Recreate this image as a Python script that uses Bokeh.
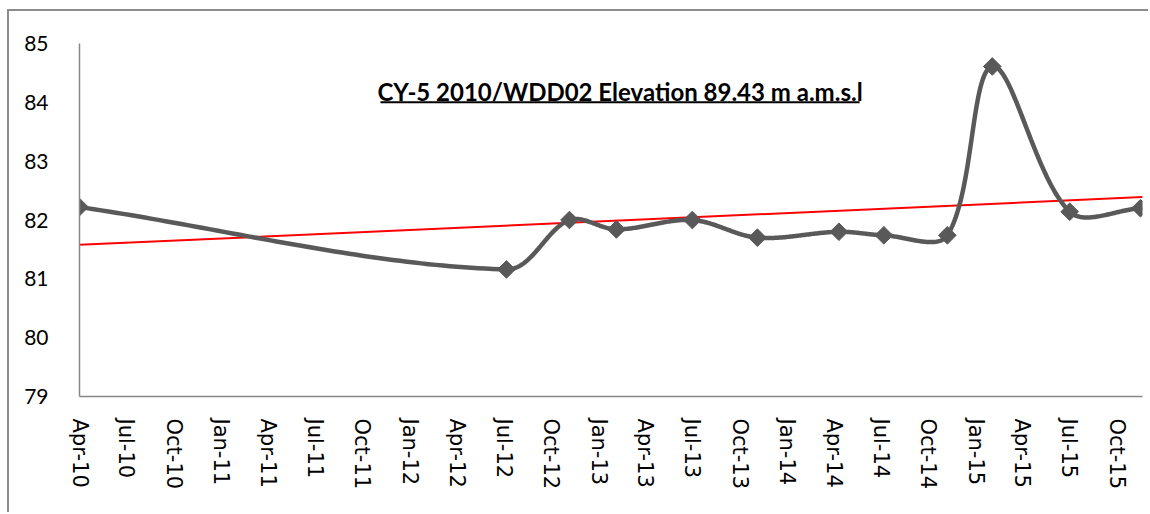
import numpy as np
import pandas as pd
from bokeh.plotting import figure
from bokeh.models import FixedTicker, Range1d, Label, BoxAnnotation, DatetimeTickFormatter
from bokeh.embed import file_html
from bokeh.resources import INLINE

# ---------------- data ----------------
dates = ["2010-04-01", "2012-07-06", "2012-11-05", "2013-02-04", "2013-07-01", "2013-11-04",
         "2014-04-11", "2014-07-07", "2014-11-07", "2015-02-02", "2015-07-02", "2015-11-16"]
levels = [82.22, 81.16, 82.00, 81.84, 82.00, 81.70, 81.80, 81.74, 81.74, 84.61, 82.14, 82.20]
tick_dates = ["2010-04-01", "2010-07-01", "2010-10-01", "2011-01-01", "2011-04-01", "2011-07-01",
              "2011-10-01", "2012-01-01", "2012-04-01", "2012-07-01", "2012-10-01", "2013-01-01",
              "2013-04-01", "2013-07-01", "2013-10-01", "2014-01-01", "2014-04-01", "2014-07-01",
              "2014-10-01", "2015-01-01", "2015-04-01", "2015-07-01", "2015-10-01"]
tick_labels = ["Apr-10", "Jul-10", "Oct-10", "Jan-11", "Apr-11", "Jul-11", "Oct-11", "Jan-12",
               "Apr-12", "Jul-12", "Oct-12", "Jan-13", "Apr-13", "Jul-13", "Oct-13", "Jan-14",
               "Apr-14", "Jul-14", "Oct-14", "Jan-15", "Apr-15", "Jul-15", "Oct-15"]
y_ticks = [79, 80, 81, 82, 83, 84, 85]
title_text = "CY-5 2010/WDD02 Elevation 89.43 m a.m.s.l"

DAY = 86400000.0
def to_ms(s):
    return (pd.to_datetime(s).astype("int64") // 10**6).astype(float).to_numpy()

x = to_ms(dates)
y = np.array(levels, dtype=float)
tx = to_ms(tick_dates)

# ---------------- layout ----------------
W, H = 1141, 503
BL, BR, BT, BB = 70, 8, 32, 118
x_end = x[-1] + 4 * DAY
y0, y1 = 79, 85
sx = (W - BL - BR) / (x_end - x[0])      # px per ms
sy = (H - BT - BB) / (y1 - y0)           # px per unit

# Excel-like smoothed line: bezier with tangent scaled by segment lengths (pixel space)
def smooth(xs, ys, n=60):
    P = np.column_stack([(xs - xs[0]) * sx, (ys - y0) * sy]).astype(float)
    out = []
    for i in range(len(P) - 1):
        p0 = P[i - 1] if i > 0 else P[i]
        p1 = P[i]
        p2 = P[i + 1]
        p3 = P[i + 2] if i + 2 < len(P) else P[i + 1]
        d01 = np.hypot(*(p1 - p0))
        d12 = np.hypot(*(p2 - p1))
        d23 = np.hypot(*(p3 - p2))
        c1 = p1 + (p2 - p0) * (d12 / (d01 + d12)) / 3.0
        c2 = p2 - (p3 - p1) * (d12 / (d12 + d23)) / 3.0
        t = np.linspace(0, 1, n)[:, None]
        seg = (1 - t) ** 3 * p1 + 3 * (1 - t) ** 2 * t * c1 + 3 * (1 - t) * t ** 2 * c2 + t ** 3 * p2
        out.append(seg if i == 0 else seg[1:])
    S = np.vstack(out)
    return S[:, 0] / sx + xs[0], S[:, 1] / sy + y0

smx, smy = smooth(x, y)

# linear trend line
xd = (x - x[0]) / DAY
k, b = np.polyfit(xd, y, 1)
trend_x = np.array([x[0], x_end])
trend_y = k * (trend_x - x[0]) / DAY + b

# ---------------- figure ----------------
p = figure(width=W, height=H, x_axis_type="datetime",
           output_backend="svg", toolbar_location=None,
           x_range=Range1d(x[0], x_end), y_range=Range1d(y0, y1),
           min_border_left=BL, min_border_right=BR, min_border_top=BT, min_border_bottom=BB)
p.styles = {"margin-left": "7px", "margin-top": "9px",
            "border-top": "2px solid #8c8c8c", "border-left": "2px solid #8c8c8c"}
p.outline_line_color = None
p.xgrid.grid_line_color = None
p.ygrid.grid_line_color = None
p.background_fill_color = "white"
p.border_fill_color = "white"

p.line(trend_x, trend_y, line_color="#ff0000", line_width=2)
p.line(smx, smy, line_color="#595959", line_width=4.5, line_join="round", line_cap="round")
p.scatter(x, y, marker="square", size=12.5, angle=np.pi / 4, fill_color="#595959", line_color="#595959")

# axes
p.yaxis.ticker = FixedTicker(ticks=y_ticks)
p.yaxis.axis_line_color = "#868686"
p.yaxis.axis_line_width = 1.5
p.yaxis.major_tick_line_color = None
p.yaxis.minor_tick_line_color = None
p.yaxis.major_label_text_font = "Lato"
p.yaxis.major_label_text_font_size = "21px"
p.yaxis.major_label_text_color = "black"
p.yaxis.major_label_standoff = 25

p.xaxis.ticker = FixedTicker(ticks=list(tx))
p.xaxis.formatter = DatetimeTickFormatter(days="%b-%y", months="%b-%y", years="%b-%y")
p.xaxis.major_label_overrides = {float(t): lab for t, lab in zip(tx, tick_labels)}
p.xaxis.axis_line_color = "#868686"
p.xaxis.axis_line_width = 1.5
p.xaxis.major_tick_line_color = None
p.xaxis.minor_tick_line_color = None
p.xaxis.major_label_orientation = "vertical"
p.xaxis.major_label_text_font = "DejaVu Sans"
p.xaxis.major_label_text_font_size = "21px"
p.xaxis.major_label_text_color = "black"
p.xaxis.major_label_standoff = 16

# title with underline
title_x = x[0] + 1047 * DAY
p.add_layout(Label(x=title_x, y=84.18, text=title_text, text_align="center",
                   text_baseline="middle", text_font="Lato", text_font_style="bold",
                   text_font_size="24px", text_color="black"))
p.add_layout(BoxAnnotation(left=x[0] + 583 * DAY, right=x[0] + 1511 * DAY, bottom=83.985, top=84.02,
                           fill_color="black", fill_alpha=1.0, line_color=None))

open("out.html", "w").write(file_html(p, INLINE))
